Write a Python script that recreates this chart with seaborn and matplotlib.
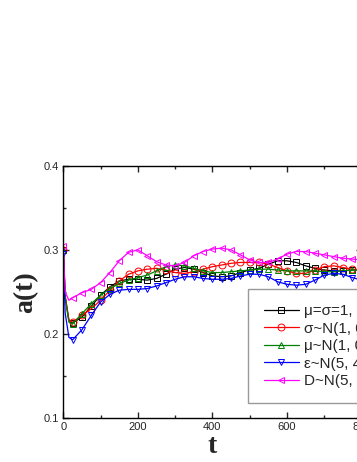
import numpy as np
import pandas as pd
import matplotlib
matplotlib.use("Agg")
import matplotlib.pyplot as plt
from matplotlib.ticker import MultipleLocator, FormatStrFormatter
import seaborn as sns

# time points
t = [0, 5, 15, 25, 50, 75, 100, 125, 150, 175, 200, 225, 250, 275, 300, 325, 350,
     375, 400, 425, 450, 475, 500, 525, 550, 575, 600, 625, 650, 675, 700, 725,
     750, 775, 800]

a_base = [0.300, 0.245, 0.216, 0.213, 0.220, 0.233, 0.246, 0.256, 0.263, 0.265, 0.265,
          0.264, 0.266, 0.271, 0.277, 0.279, 0.277, 0.273, 0.269, 0.268, 0.269,
          0.273, 0.276, 0.278, 0.283, 0.287, 0.287, 0.285, 0.281, 0.278, 0.276,
          0.275, 0.275, 0.276, 0.277]
a_sigma = [0.300, 0.245, 0.217, 0.214, 0.222, 0.230, 0.240, 0.252, 0.263, 0.271, 0.275,
           0.277, 0.278, 0.276, 0.273, 0.272, 0.274, 0.277, 0.280, 0.282, 0.284,
           0.285, 0.285, 0.285, 0.283, 0.279, 0.275, 0.272, 0.272, 0.276, 0.280,
           0.281, 0.279, 0.277, 0.276]
a_mu = [0.300, 0.243, 0.214, 0.212, 0.224, 0.236, 0.246, 0.254, 0.260, 0.264, 0.267,
        0.270, 0.275, 0.280, 0.282, 0.281, 0.278, 0.275, 0.273, 0.273, 0.274,
        0.275, 0.276, 0.277, 0.277, 0.276, 0.275, 0.275, 0.275, 0.275, 0.274,
        0.274, 0.275, 0.276, 0.276]
a_eps = [0.295, 0.225, 0.196, 0.193, 0.205, 0.222, 0.238, 0.247, 0.252, 0.253, 0.253,
         0.254, 0.257, 0.261, 0.265, 0.268, 0.268, 0.266, 0.265, 0.265, 0.266,
         0.269, 0.271, 0.271, 0.268, 0.262, 0.259, 0.258, 0.259, 0.264, 0.270,
         0.272, 0.271, 0.267, 0.264]
a_d = [0.305, 0.250, 0.240, 0.243, 0.249, 0.253, 0.261, 0.273, 0.287, 0.297, 0.300,
       0.293, 0.286, 0.282, 0.281, 0.285, 0.293, 0.298, 0.301, 0.302, 0.300,
       0.294, 0.288, 0.285, 0.285, 0.289, 0.295, 0.298, 0.298, 0.296, 0.294,
       0.292, 0.290, 0.289, 0.288]

labels = ["μ=σ=1, ε=D=5", "σ~N(1, 0.2)", "μ~N(1, 0.2)", "ε~N(5, 4)", "D~N(5, 4)"]
colors = ["#000000", "#ff0000", "#008000", "#0000ff", "#ff00ff"]
markers = ["s", "o", "^", "v", "<"]
series = [a_base, a_sigma, a_mu, a_eps, a_d]

sns.set_style("ticks")
plt.rcParams["font.family"] = ["Liberation Sans", "DejaVu Sans"]
plt.rcParams["xtick.direction"] = "in"
plt.rcParams["ytick.direction"] = "in"

fig = plt.figure(figsize=(3.57, 4.62), dpi=100)
ax = fig.add_axes([0.1773, 0.0952, 0.8355, 0.546])

mark_idx = [0] + list(range(3, len(t)))
for vals, lab, c, m in zip(series, labels, colors, markers):
    df = pd.DataFrame({"t": t, "a": vals})
    sns.lineplot(data=df, x="t", y="a", color=c, marker=m, markersize=5,
                 markerfacecolor="none", markeredgecolor=c, markeredgewidth=0.7,
                 linewidth=0.9, markevery=mark_idx, label=lab, ax=ax)

ax.set_xlim(0, 800)
ax.set_ylim(0.1, 0.4)
ax.xaxis.set_major_locator(MultipleLocator(200))
ax.xaxis.set_minor_locator(MultipleLocator(100))
ax.yaxis.set_major_locator(MultipleLocator(0.1))
ax.yaxis.set_minor_locator(MultipleLocator(0.05))
ax.yaxis.set_major_formatter(FormatStrFormatter("%.1f"))
ax.tick_params(which="both", top=True, right=True, labelsize=8, width=1, pad=3)
ax.tick_params(which="major", length=4)
ax.tick_params(which="minor", length=2.5)
for s in ax.spines.values():
    s.set_linewidth(1)
    s.set_color("black")

ax.set_xlabel("t", family="Liberation Serif", fontweight="bold", fontsize=20, labelpad=1)
ax.set_ylabel("a(t)", family="Liberation Serif", fontweight="bold", fontsize=20, labelpad=4)

leg = ax.legend(loc="upper left", bbox_to_anchor=(0.62, 0.5107), borderaxespad=0,
                fontsize=11, frameon=True, fancybox=False, edgecolor="#808080",
                handlelength=2.3, numpoints=1, labelspacing=0.22, borderpad=1.0,
                handletextpad=0.35)
leg.get_frame().set_linewidth(1)

fig.savefig("out.png", dpi=100)
